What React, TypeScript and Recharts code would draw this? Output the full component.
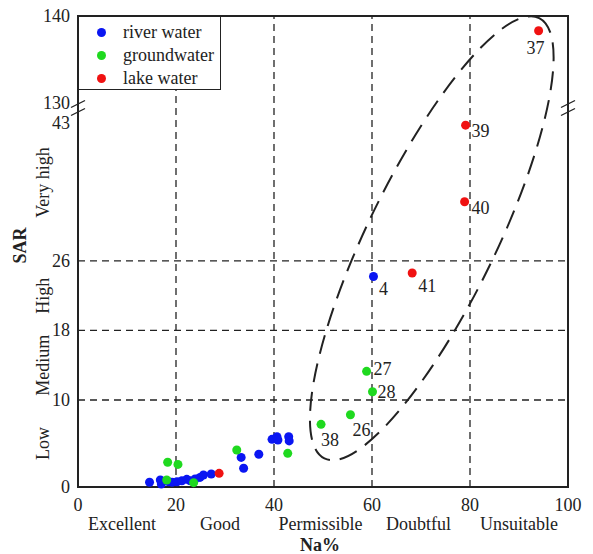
import React from 'react';
import {
  ScatterChart,
  Scatter,
  XAxis,
  YAxis,
  ReferenceLine,
  ReferenceArea,
  ReferenceDot,
  Legend,
} from 'recharts';

// broken y axis: 0-43 below the break, 130-140 above it
const BREAK_LOW = 43;
const BREAK_HIGH = 130;
const Y_TOP = 140;
const GAP = 1.15;
const toAxis = (v: number) => (v <= BREAK_LOW ? v : v - BREAK_HIGH + BREAK_LOW + GAP);
const fromAxis = (t: number) => (t <= BREAK_LOW + GAP / 2 ? t : t - BREAK_LOW - GAP + BREAK_HIGH);
const Y_MAX = toAxis(Y_TOP);

const riverNa = [14.6, 16.8, 17.0, 18.5, 19.2, 20.2, 21.2, 22.2, 22.9, 23.9, 24.9, 25.6, 27.2, 33.3, 33.8, 36.9, 39.6, 40.6, 40.8, 43.0, 43.1, 60.3];
const riverSar = [0.54, 0.8, 0.35, 0.6, 0.54, 0.6, 0.72, 0.88, 0.72, 0.92, 1.1, 1.38, 1.5, 3.4, 2.15, 3.76, 5.48, 5.78, 5.4, 5.78, 5.3, 24.2];
const riverTag = ['', '', '', '', '', '', '', '', '', '', '', '', '', '', '', '', '', '', '', '', '', '4'];

const groundNa = [18.1, 18.3, 20.4, 23.6, 32.4, 42.8, 49.6, 55.6, 58.9, 60.1];
const groundSar = [0.8, 2.84, 2.6, 0.5, 4.25, 3.87, 7.2, 8.3, 13.3, 10.95];
const groundTag = ['', '', '', '', '', '', '38', '26', '27', '28'];

const lakeNa = [28.8, 68.2, 78.9, 79.1, 94.0];
const lakeSar = [1.57, 24.6, 32.8, 41.6, 138.3];
const lakeTag = ['', '41', '40', '39', '37'];

const xTicks = [0, 20, 40, 60, 80, 100];
const xClassMid = [9, 29, 49.5, 69.5, 90];
const xClasses = ['Excellent', 'Good', 'Permissible', 'Doubtful', 'Unsuitable'];
const yTicks = [0, 10, 18, 26, 43, 130, 140];
const yClassMid = [5, 14, 22, 35];
const yClasses = ['Low', 'Medium', 'High', 'Very high'];
const xGrid = [20, 40, 60, 80];
const yGrid = [10, 18, 26];

// ellipse around the high-SAR samples (centre in data units)
const ellipseNa = 72.2;
const ellipseSar = 28.6;

const labelOffset: Record<string, [number, number]> = {
  '4': [10, 12],
  '41': [15, 13],
  '27': [16, -2],
  '28': [14, 0],
  '26': [11, 15],
  '38': [9, 16],
  '37': [-3, 17],
  '39': [15, 6],
  '40': [16, 6],
};

const FONT = '"Liberation Serif", "Times New Roman", serif';
const INK = '#222';

const build = (na: number[], sar: number[], tag: string[]) =>
  na.map((x, i) => ({ x, y: toAxis(sar[i]), tag: tag[i] }));

const series = [
  { name: 'river water', color: '#0a16f2', data: build(riverNa, riverSar, riverTag) },
  { name: 'groundwater', color: '#1fd91f', data: build(groundNa, groundSar, groundTag) },
  { name: 'lake water', color: '#f01212', data: build(lakeNa, lakeSar, lakeTag) },
];

const dotShape = (color: string) => (p: any) => {
  const tag = p.payload?.tag;
  const off = tag ? labelOffset[tag] : null;
  return (
    <g>
      <circle cx={p.cx} cy={p.cy} r={4.5} fill={color} />
      {off && (
        <text x={p.cx + off[0]} y={p.cy + off[1]} textAnchor="middle" dominantBaseline="central"
          fontFamily={FONT} fontSize={18} fill={INK}>
          {tag}
        </text>
      )}
    </g>
  );
};

const XTick = (p: any) => {
  const v = p.payload.value;
  const ci = xClassMid.indexOf(v);
  if (ci >= 0) {
    return (
      <text x={p.x} y={p.y + 29} textAnchor="middle" dominantBaseline="central" fontFamily={FONT} fontSize={18} fill={INK}>
        {xClasses[ci]}
      </text>
    );
  }
  return (
    <text x={p.x} y={p.y + 10} textAnchor="middle" dominantBaseline="central" fontFamily={FONT} fontSize={18} fill={INK}>
      {v}
    </text>
  );
};

const YTick = (p: any) => {
  const v = p.payload.value;
  const ci = yClassMid.indexOf(v);
  if (ci >= 0) {
    return (
      <text x={p.x - 27} y={p.y} transform={`rotate(-90 ${p.x - 27} ${p.y})`} textAnchor="middle"
        dominantBaseline="central" fontFamily={FONT} fontSize={18} fill={INK}>
        {yClasses[ci]}
      </text>
    );
  }
  const shown = Math.round(fromAxis(v));
  const dy = shown === BREAK_LOW ? 10 : 0;
  return (
    <text x={p.x} y={p.y + dy} textAnchor="end" dominantBaseline="central" fontFamily={FONT} fontSize={18} fill={INK}>
      {shown}
    </text>
  );
};

const BreakMark = (p: any) => (
  <g stroke={INK} strokeWidth={1.3}>
    <line x1={p.cx - 7} y1={p.cy - 0.5} x2={p.cx + 7} y2={p.cy - 7.5} />
    <line x1={p.cx - 7} y1={p.cy + 7.5} x2={p.cx + 7} y2={p.cy + 0.5} />
  </g>
);

const EllipseShape = (p: any) => (
  <ellipse cx={p.cx} cy={p.cy} rx={245} ry={64} transform={`rotate(-64 ${p.cx} ${p.cy})`}
    fill="none" stroke={INK} strokeWidth={2} strokeDasharray="19 10" />
);

const LegendBox = () => (
  <div style={{
    width: 143, height: 74, boxSizing: 'border-box', background: '#fff',
    border: `1.8px solid ${INK}`, position: 'relative', fontFamily: FONT, fontSize: 18, color: INK,
  }}>
    {series.map((s, i) => (
      <div key={s.name} style={{ position: 'absolute', left: 0, top: 15 + i * 23 - 11, height: 22, display: 'flex', alignItems: 'center' }}>
        <span style={{ position: 'absolute', left: 18, width: 9, height: 9, borderRadius: '50%', background: s.color }} />
        <span style={{ position: 'absolute', left: 44, whiteSpace: 'nowrap', lineHeight: '22px' }}>{s.name}</span>
      </div>
    ))}
  </div>
);

export default function App() {
  return (
    <div style={{ position: 'absolute', left: 0, top: 0, background: '#fff' }}>
      <ScatterChart width={593} height={554} margin={{ top: 16, right: 25, left: 0, bottom: 0 }}>
        <XAxis type="number" dataKey="x" domain={[0, 100]} ticks={[...xTicks, ...xClassMid]} interval={0}
          axisLine={false} tickLine={false} height={67} tick={<XTick />}
          label={{
            content: (lp: any) => (
              <text x={lp.viewBox.x + lp.viewBox.width / 2 - 3} y={lp.viewBox.y + 58} textAnchor="middle"
                dominantBaseline="central" fontFamily={FONT} fontSize={18} fontWeight="bold" fill={INK}>
                Na%
              </text>
            ),
          }} />
        <YAxis type="number" dataKey="y" domain={[0, Y_MAX]} ticks={[...yTicks.map(toAxis), ...yClassMid]} interval={0}
          axisLine={false} tickLine={false} width={78} tick={<YTick />}
          label={{
            content: (lp: any) => {
              const cx = lp.viewBox.x + 20;
              const cy = lp.viewBox.y + lp.viewBox.height / 2 - 6;
              return (
                <text x={cx} y={cy} transform={`rotate(-90 ${cx} ${cy})`} textAnchor="middle"
                  dominantBaseline="central" fontFamily={FONT} fontSize={18} fontWeight="bold" fill={INK}>
                  SAR
                </text>
              );
            },
          }} />
        {xGrid.map((g) => (
          <ReferenceLine key={`vx${g}`} x={g} stroke={INK} strokeWidth={1.3} strokeDasharray="7 5" />
        ))}
        {yGrid.map((g) => (
          <ReferenceLine key={`hy${g}`} y={g} stroke={INK} strokeWidth={1.3} strokeDasharray="7 5" />
        ))}
        <ReferenceArea x1={0} x2={100} y1={0} y2={Y_MAX} fill="none" stroke={INK} strokeWidth={2} />
        <ReferenceDot x={ellipseNa} y={toAxis(ellipseSar)} r={0} ifOverflow="visible" shape={EllipseShape} />
        <ReferenceDot x={0} y={BREAK_LOW + GAP / 2} r={0} ifOverflow="visible" shape={BreakMark} />
        <ReferenceDot x={100} y={BREAK_LOW + GAP / 2} r={0} ifOverflow="visible" shape={BreakMark} />
        {series.map((s) => (
          <Scatter key={s.name} name={s.name} data={s.data} fill={s.color} shape={dotShape(s.color)} isAnimationActive={false} />
        ))}
        <Legend layout="vertical" align="center" verticalAlign="middle" content={<LegendBox />}
          wrapperStyle={{ left: 78, top: 16, width: 143, height: 74 }} />
      </ScatterChart>
    </div>
  );
}
